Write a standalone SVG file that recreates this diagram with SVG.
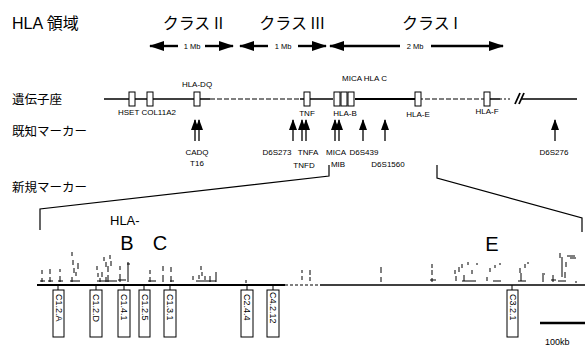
<svg xmlns="http://www.w3.org/2000/svg" width="585" height="349" viewBox="0 0 585 349">
<defs>
<marker id="big" viewBox="0 0 15 10" refX="14" refY="5" markerWidth="15" markerHeight="10" markerUnits="userSpaceOnUse" orient="auto"><path d="M0,0 L15,5 L0,10 Z" fill="#000"/></marker>
<marker id="up" viewBox="0 0 11 8" refX="10" refY="4" markerWidth="11" markerHeight="8" markerUnits="userSpaceOnUse" orient="auto"><path d="M0,0 L11,4 L0,8 Z" fill="#000"/></marker>
</defs>
<style>
.jp{font-family:"Noto Sans CJK JP",sans-serif;fill:#000}
.t{font-family:"Liberation Sans",Arial,sans-serif;fill:#000}
.s{font-size:7.5px}
.ln{stroke:#000;fill:none}
.box{fill:#fff;stroke:#000;stroke-width:1}
.lab{font-family:"Liberation Sans",Arial,sans-serif;font-size:8px;fill:#000}
.plab{font-family:"Liberation Sans",Arial,sans-serif;font-size:9px;fill:#000}
</style>
<rect width="585" height="349" fill="#fff"/>

<g id="title"><text class="t" x="12" y="29" font-size="16">HLA <tspan class="jp">領域</tspan></text></g>

<g id="classes">
<text class="jp" x="193" y="29" font-size="16" text-anchor="middle">クラス II</text>
<text class="jp" x="292" y="29" font-size="16" text-anchor="middle">クラス III</text>
<text class="jp" x="430" y="29" font-size="16" text-anchor="middle">クラス I</text>
</g>

<g id="scale-arrows" class="ln" stroke-width="2.4">
<line x1="178" y1="46" x2="150" y2="46" marker-end="url(#big)"/>
<line x1="205" y1="46" x2="233" y2="46" marker-end="url(#big)"/>
<line x1="268" y1="46" x2="240" y2="46" marker-end="url(#big)"/>
<line x1="298" y1="46" x2="326" y2="46" marker-end="url(#big)"/>
<line x1="400" y1="46" x2="330" y2="46" marker-end="url(#big)"/>
<line x1="431" y1="46" x2="503" y2="46" marker-end="url(#big)"/>
</g>
<g id="scale-labels">
<text class="t s" x="192" y="49" text-anchor="middle">1 Mb</text>
<text class="t s" x="283" y="49" text-anchor="middle">1 Mb</text>
<text class="t s" x="415" y="49" text-anchor="middle">2 Mb</text>
</g>

<g id="row-labels">
<text class="jp" x="12" y="104" font-size="12.5">遺伝子座</text>
<text class="jp" x="12" y="136" font-size="12.5">既知マーカー</text>
<text class="jp" x="12" y="192" font-size="12.5">新規マーカー</text>
</g>

<g id="gene-line" class="ln">
<line x1="104" y1="99" x2="210" y2="99" stroke-width="1.4"/>
<line x1="210" y1="99" x2="300" y2="99" stroke-width="1.1" stroke-dasharray="5,2"/>
<line x1="300" y1="99" x2="333" y2="99" stroke-width="1.4"/>
<line x1="355" y1="99" x2="418" y2="99" stroke-width="1.9"/>
<line x1="418" y1="99" x2="486" y2="99" stroke-width="1.1" stroke-dasharray="5,2"/>
<line x1="490" y1="99" x2="500" y2="99" stroke-width="1.5"/>
<line x1="500" y1="99" x2="512" y2="99" stroke-width="1.1" stroke-dasharray="2,2"/>
<line x1="522" y1="99" x2="577" y2="99" stroke-width="1.3"/>
<line x1="515" y1="104" x2="520" y2="93" stroke-width="1.8"/>
<line x1="519" y1="104" x2="524" y2="93" stroke-width="1.8"/>
</g>

<g id="gene-HSET"><rect class="box" x="129" y="92" width="6" height="14"/></g>
<g id="gene-COL11A2"><rect class="box" x="147" y="92" width="6" height="14"/></g>
<g id="gene-HLA-DQ"><rect class="box" x="194" y="92" width="6" height="14"/></g>
<g id="gene-TNF"><rect class="box" x="304" y="92" width="6" height="14"/></g>
<g id="gene-MICA-HLA-B-C">
<rect class="box" x="334" y="92" width="6" height="14"/>
<rect class="box" x="341" y="92" width="6" height="14"/>
<rect class="box" x="348" y="92" width="6" height="14"/>
</g>
<g id="gene-HLA-E"><rect class="box" x="415" y="92" width="6" height="14"/></g>
<g id="gene-HLA-F"><rect class="box" x="484" y="92" width="6" height="14"/></g>

<g id="gene-labels" class="lab">
<text x="197" y="87" text-anchor="middle">HLA-DQ</text>
<text x="118" y="115">HSET COL11A2</text>
<text x="307" y="116" text-anchor="middle">TNF</text>
<text x="342" y="81">MICA  HLA C</text>
<text x="345" y="116" text-anchor="middle">HLA-B</text>
<text x="418" y="117" text-anchor="middle">HLA-E</text>
<text x="487" y="114" text-anchor="middle">HLA-F</text>
</g>

<g id="known-markers" class="ln" stroke-width="1.3">
<line x1="195" y1="141" x2="195" y2="120" marker-end="url(#up)"/>
<line x1="199" y1="141" x2="199" y2="120" marker-end="url(#up)"/>
<line x1="293" y1="141" x2="293" y2="120" marker-end="url(#up)"/>
<line x1="302" y1="141" x2="302" y2="120" marker-end="url(#up)"/>
<line x1="306" y1="141" x2="306" y2="120" marker-end="url(#up)"/>
<line x1="335" y1="141" x2="335" y2="120" marker-end="url(#up)"/>
<line x1="339" y1="141" x2="339" y2="120" marker-end="url(#up)"/>
<line x1="363" y1="141" x2="363" y2="120" marker-end="url(#up)"/>
<line x1="385" y1="141" x2="385" y2="120" marker-end="url(#up)"/>
<line x1="555" y1="141" x2="555" y2="120" marker-end="url(#up)"/>
</g>
<g id="marker-labels" class="lab">
<text x="197" y="155" text-anchor="middle">CADQ</text>
<text x="197" y="166" text-anchor="middle">T16</text>
<text x="277" y="155" text-anchor="middle">D6S273</text>
<text x="308" y="155" text-anchor="middle">TNFA</text>
<text x="336" y="155" text-anchor="middle">MICA</text>
<text x="364" y="155" text-anchor="middle">D6S439</text>
<text x="304" y="168" text-anchor="middle">TNFD</text>
<text x="338" y="167" text-anchor="middle">MIB</text>
<text x="388" y="167" text-anchor="middle">D6S1560</text>
<text x="554" y="155" text-anchor="middle">D6S276</text>
</g>

<g id="zoom-lines" class="ln" stroke-width="1.2">
<polyline points="329,165 329,176 40,209 40,230"/>
<polyline points="437,165 437,178 582,218 582,232"/>
</g>

<g id="region-labels">
<text class="t" x="110" y="225" font-size="13">HLA-</text>
<text class="t" x="127" y="250" font-size="20" text-anchor="middle">B</text>
<text class="t" x="160" y="250" font-size="20" text-anchor="middle">C</text>
<text class="t" x="492" y="251" font-size="20" text-anchor="middle">E</text>
</g>

<g id="contig-line" class="ln">
<line x1="37" y1="285" x2="285" y2="285" stroke-width="2"/>
<line x1="285" y1="285" x2="320" y2="285" stroke-width="1.2" stroke-dasharray="3,2"/>
<line x1="320" y1="285" x2="585" y2="285" stroke-width="1.6"/>
</g>

<g id="new-marker-ticks" class="ln" stroke-width="1">
<path d="M42,270v4M42,278v4M40,281h5M50,269v5M50,277v5M48,281h5M60,269v3M60,276v6M58,281h5
M72,252v4M73,260v5M74,268v5M76,272v4M70,281h10M72,277v5M78,263v6
M97,266v4M98,273v4M102,272v5M104,257v4M106,262v5M108,266v6M110,255v4M111,261v5M97,281h20M100,278v4M106,277v5M108,275v7
M120,266v4M120,274v8M118,280h8M128,262v20M127,264h3
M150,270v4M150,277v5M148,281h8M163,266v5M163,275v7M171,267v5M171,276v6M170,281h4
M193,276v4M199,275v4M201,266v4M202,272v4M205,276v4M210,276v6M196,281h20M216,272v10M246,280v3
M302,270v3M302,276v4M310,270v5M310,277v4M381,267v6M381,277v5M432,264v4M432,270v5M430,280h6M432,278v4
M455,270v4M456,276v5M459,267v5M462,264v4M464,275v6M468,262v3M472,270v4M462,281h14M477,263v2
M487,277v4M490,268v4M495,265v3M500,263v2M493,281h8
M520,268v5M521,273v8M525,264v4M528,262v2M518,281h8M543,275v7M542,274h3M553,275v7M551,280h5
M560,253v5M562,257v20M566,262v5M570,258h6M567,256h8M558,281h8M565,272v6M575,282h2"/>
</g>

<g id="probes">
<g class="ln" stroke-width="1"><path d="M58,285v5M96,285v5M124,285v5M144,285v5M170,285v5M247,285v5M273,285v5M512,285v5"/></g>
<g id="probe-C1.2.A"><rect class="box" x="53" y="290" width="11" height="47"/><text class="plab" transform="translate(55.5,294) rotate(90)">C1.2.A</text></g>
<g id="probe-C1.2.D"><rect class="box" x="90" y="290" width="12" height="47"/><text class="plab" transform="translate(93,294) rotate(90)">C1.2.D</text></g>
<g id="probe-C1.4.1"><rect class="box" x="118" y="290" width="12" height="47"/><text class="plab" transform="translate(121,294) rotate(90)">C1.4.1</text></g>
<g id="probe-C1.2.5"><rect class="box" x="139" y="290" width="11" height="47"/><text class="plab" transform="translate(141.5,294) rotate(90)">C1.2.5</text></g>
<g id="probe-C1.3.1"><rect class="box" x="164" y="290" width="12" height="47"/><text class="plab" transform="translate(167,294) rotate(90)">C1.3.1</text></g>
<g id="probe-C2.4.4"><rect class="box" x="241" y="290" width="12" height="47"/><text class="plab" transform="translate(244,294) rotate(90)">C2.4.4</text></g>
<g id="probe-C4.2.12"><rect class="box" x="267" y="290" width="12" height="47"/><text class="plab" transform="translate(270,292) rotate(90)">C4.2.12</text></g>
<g id="probe-C3.2.1"><rect class="box" x="507" y="290" width="11" height="47"/><text class="plab" transform="translate(509.5,294) rotate(90)">C3.2.1</text></g>
</g>

<g id="scale-bar">
<line class="ln" x1="540" y1="323" x2="585" y2="323" stroke-width="2.5"/>
<text class="t" x="545" y="345" font-size="9">100kb</text>
</g>
</svg>
